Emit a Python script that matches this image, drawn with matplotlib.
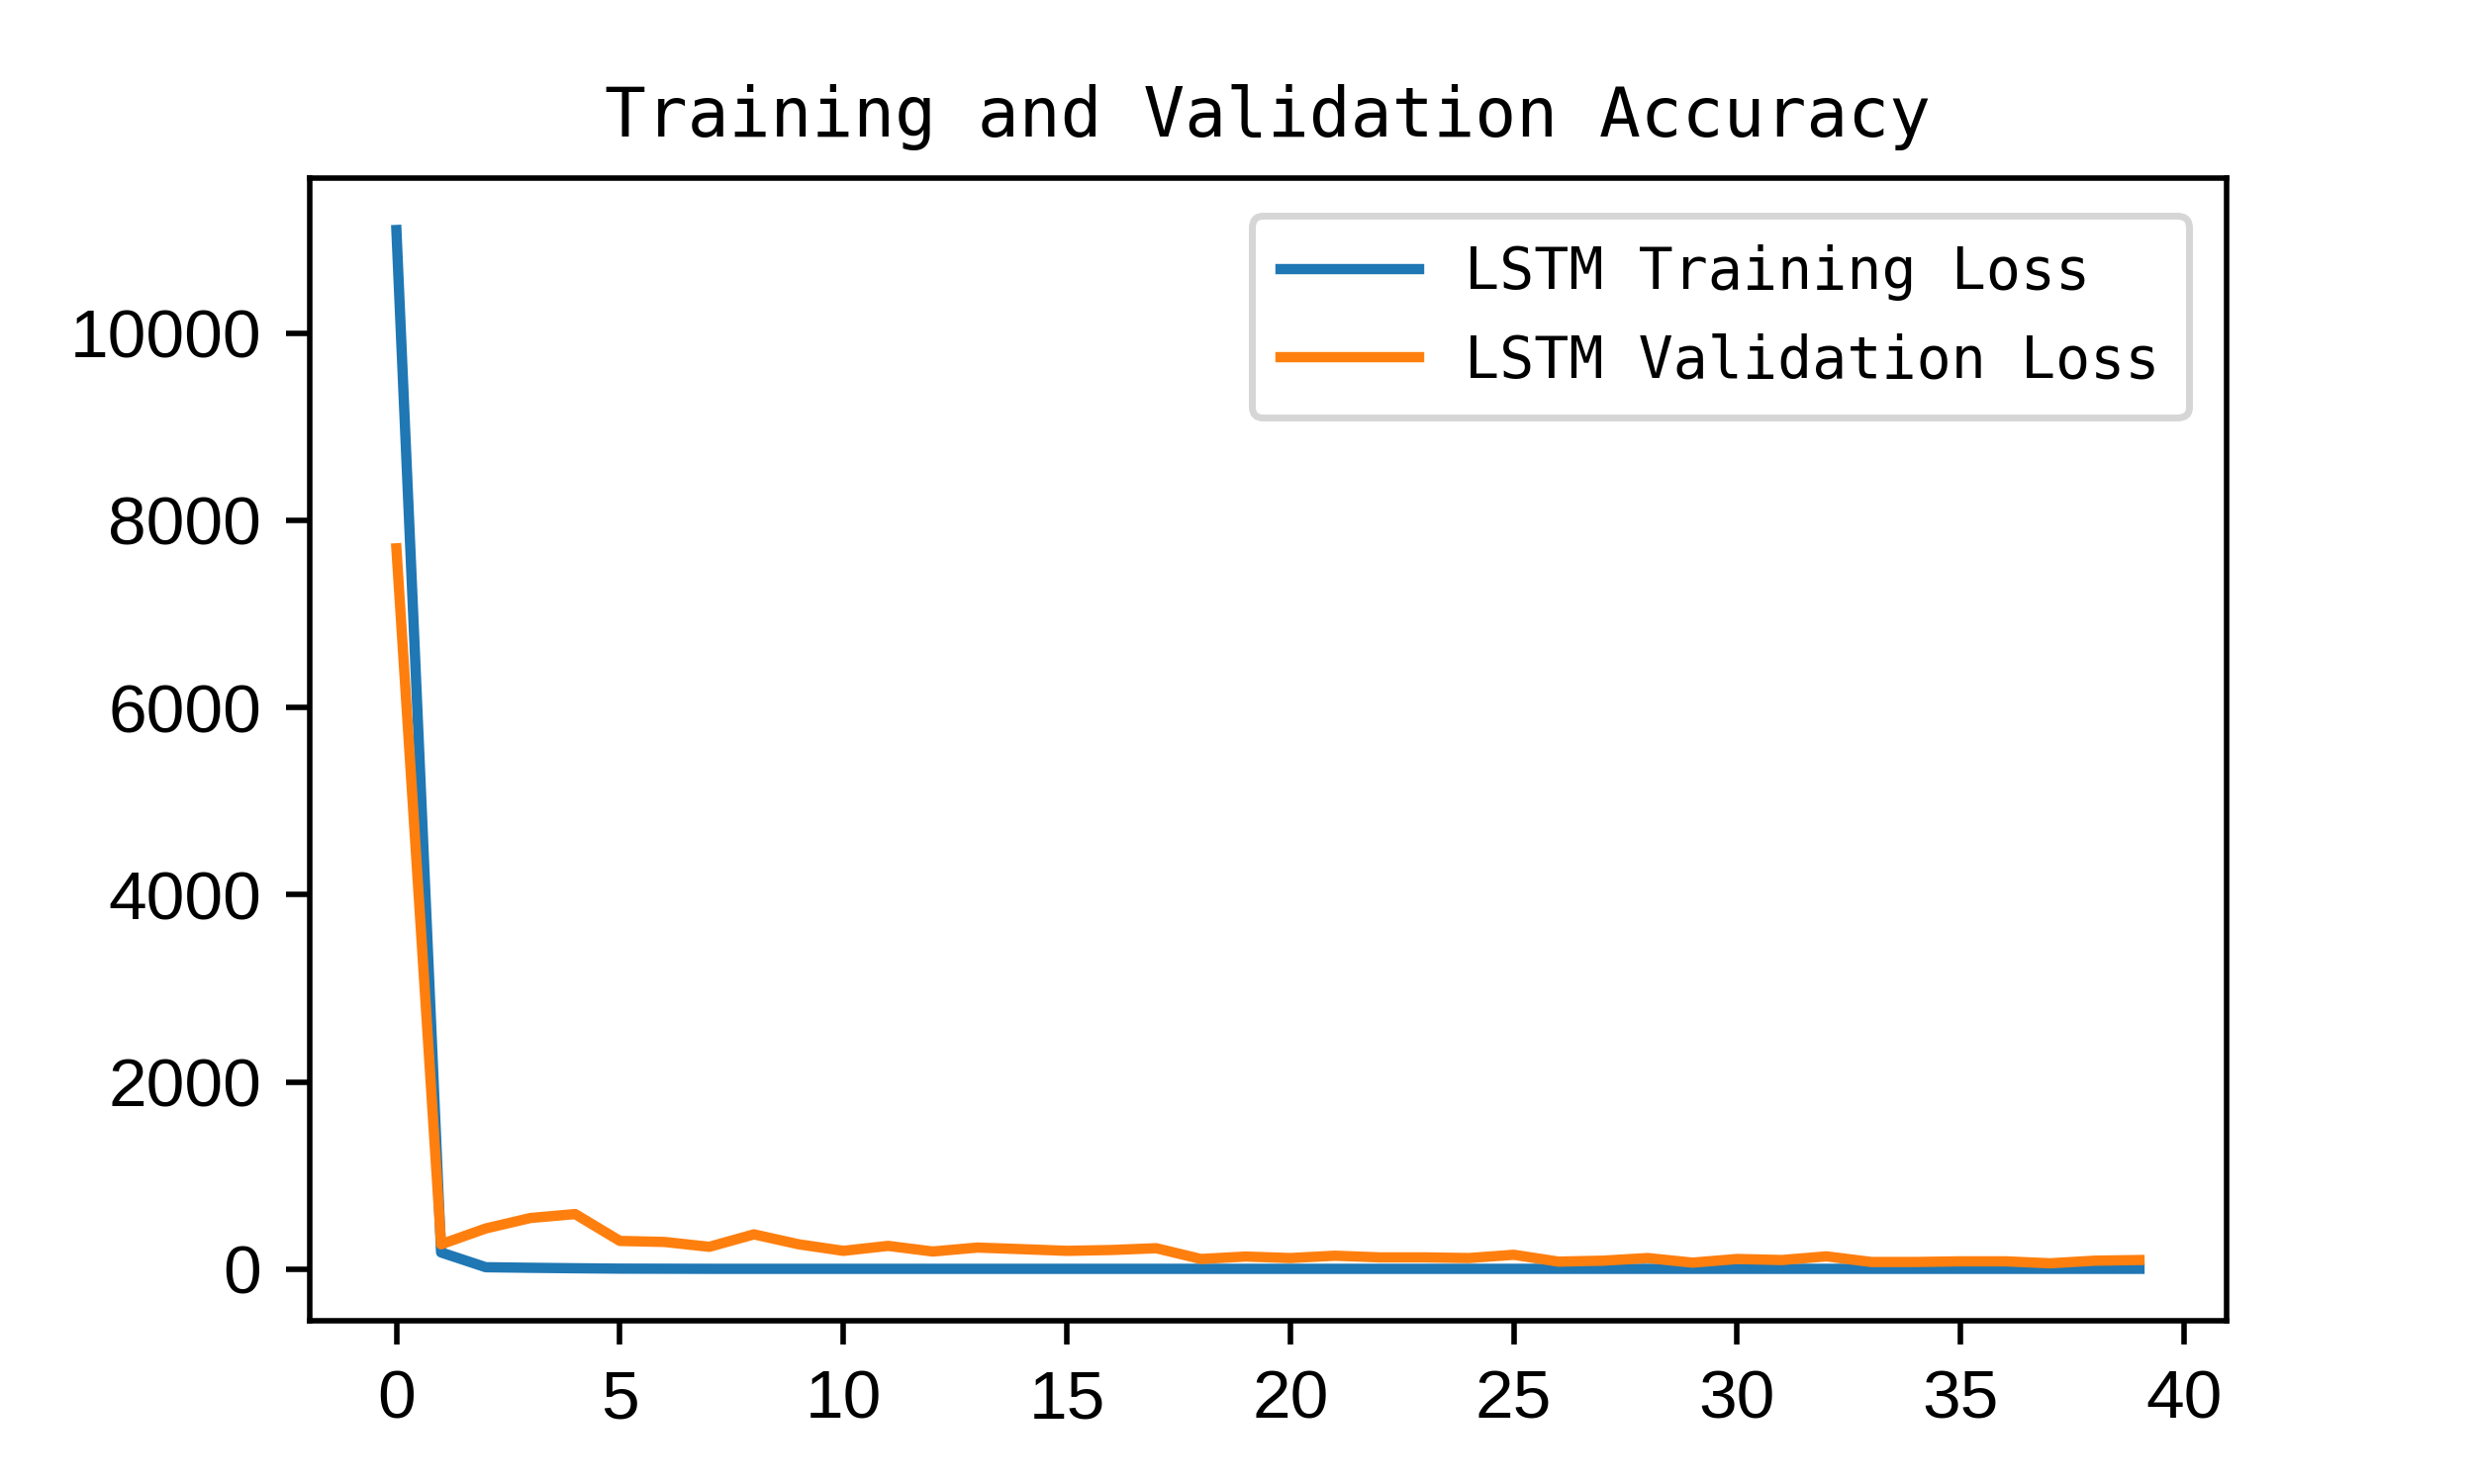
import matplotlib
matplotlib.use('Agg')
import matplotlib.pyplot as plt

# Loss values (one per epoch)
train_loss = [11100, 179, 21, 15, 10, 6, 5, 4, 4, 4,
              4, 4, 4, 4, 4, 4, 4, 4, 4, 4,
              4, 4, 4, 4, 4, 4, 4, 4, 4, 4,
              4, 4, 4, 4, 4, 4, 4, 4, 4, 4]
val_loss = [7700, 266, 435, 547, 589, 302, 291, 239, 372, 266,
            196, 249, 189, 231, 214, 196, 205, 224, 109, 135,
            119, 144, 126, 126, 119, 154, 81, 91, 119, 70,
            109, 98, 137, 77, 77, 84, 84, 63, 91, 98]
epochs = list(range(len(train_loss)))

plt.rcParams['font.family'] = ['Liberation Sans', 'DejaVu Sans']
mono = 'DejaVu Sans Mono'

fig, ax = plt.subplots(figsize=(5, 3), dpi=500)
ax.plot(epochs, train_loss, label='LSTM Training Loss')
ax.plot(epochs, val_loss, label='LSTM Validation Loss')

ax.set_title('Training and Validation Accuracy', family=mono, fontsize=10)
ax.legend(prop={'family': mono, 'size': 8.4}, labelspacing=0.55,
          handlelength=2.4, borderpad=0.5, borderaxespad=0.65)

plt.savefig('out.png')
